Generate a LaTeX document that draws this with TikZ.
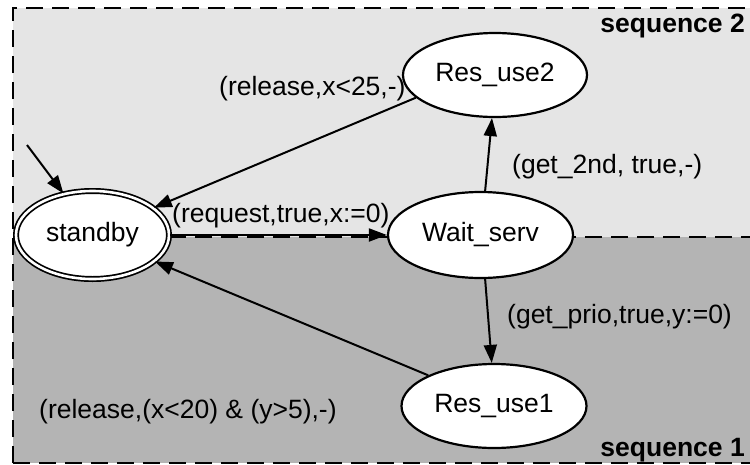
\documentclass[tikz,border=0pt]{standalone}
\usepackage{fontspec}
\setmainfont{Liberation Sans}
\usetikzlibrary{shapes.geometric,arrows.meta}
\definecolor{lightbg}{RGB}{229,229,229}
\definecolor{darkbg}{RGB}{180,180,180}
\begin{document}
\begin{tikzpicture}[x=1pt,y=-1pt,
  region/.style={draw=black, line width=2pt, dash pattern=on 17pt off 9pt},
  state/.style={ellipse, draw=black, line width=2.2pt, fill=white, inner sep=0pt, font=\fontsize{26.5}{30}\selectfont},
  lbl/.style={anchor=base west, inner sep=0pt, font=\fontsize{26.5}{30}\selectfont},
  seqlbl/.style={anchor=base east, inner sep=0pt, font=\fontsize{26.5}{30}\selectfont\bfseries},
  trans/.style={draw=black, line width=2pt, -{Triangle[length=18pt,width=13pt]}}]
\useasboundingbox (0,0) rectangle (750,464);
\begin{scope}
\clip (0,0) rectangle (750,464);
\fill[lightbg] (13,8) rectangle (780,237);
\fill[darkbg] (13,237) rectangle (780,463);
\draw[region] (13,463) -- (13,8) -- (780,8);
\draw[region] (13,463) -- (780,463);
\draw[region] (13,237) -- (780,237);
\end{scope}

% labels
\node[seqlbl] (s2) at (745,32) {sequence 2};
\node[seqlbl] (s1) at (745,456) {sequence 1};
\node[lbl] (l1) at (219,95) {(release,x<25,-)};
\node[lbl] (l2) at (172,222) {(request,true,x:=0)};
\node[lbl] (l3) at (512,173) {(get\_2nd, true,-)};
\node[lbl] (l4) at (507,323) {(get\_prio,true,y:=0)};
\node[lbl] (l5) at (39,418) {(release,(x<20) \& (y>5),-)};

% states
\node[state, double=white, double distance=2.6pt, line width=1.7pt,
      minimum width=153pt, minimum height=88pt] (standby) at (92.5,235) {standby};
\node[state, minimum width=185pt, minimum height=86pt] (wait) at (480.5,235) {Wait\_serv};
\node[state, minimum width=184pt, minimum height=84pt] (res2) at (495,75) {Res\_use2};
\node[state, minimum width=185pt, minimum height=84pt] (res1) at (494,406) {Res\_use1};

% transitions
\coordinate (init) at (27,145);
\draw[trans] (init) -- (standby.125);
\draw[trans] (standby) -- (wait);
\draw[trans] (res2.196) -- (standby.24);
\draw[trans] (wait.84) -- (res2.266);
\draw[trans] (wait.276) -- (res1.93);
\draw[trans] (res1.155) -- (standby.337);
\end{tikzpicture}
\end{document}
